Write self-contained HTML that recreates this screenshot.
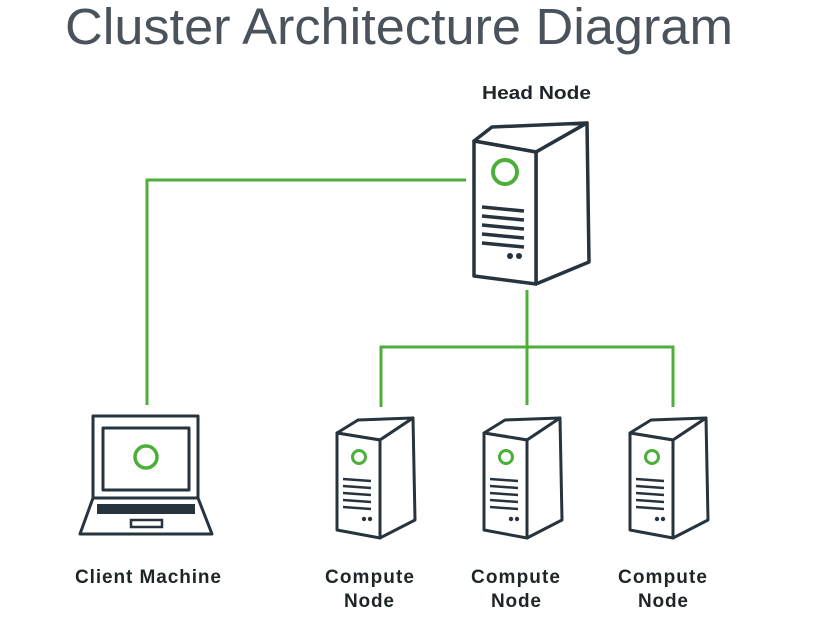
<!DOCTYPE html>
<html><head><meta charset="utf-8"><style>
html,body{margin:0;padding:0;background:#fff;}
svg{display:block;}
</style></head><body>
<svg width="826" height="626" viewBox="0 0 826 626" xmlns="http://www.w3.org/2000/svg">
<defs>
<g id="srv">
  <polygon points="0,0 21,-13 76,-15 43,7" fill="#fff" stroke="#27343d" stroke-width="3" stroke-linejoin="round"/>
  <polygon points="43,7 76,-15 78,87 43,105" fill="#fff" stroke="#27343d" stroke-width="3" stroke-linejoin="round"/>
  <polygon points="0,0 43,7 43,105 0,97" fill="#fff" stroke="#27343d" stroke-width="3" stroke-linejoin="round"/>
  <circle cx="22" cy="24" r="6.5" fill="none" stroke="#4caf3a" stroke-width="3"/>
  <g stroke="#27343d" stroke-width="2.5">
    <line x1="6" y1="46" x2="34" y2="48"/>
    <line x1="6" y1="53" x2="34" y2="55"/>
    <line x1="6" y1="60" x2="34" y2="62"/>
    <line x1="6" y1="67" x2="34" y2="69"/>
    <line x1="6" y1="74" x2="34" y2="76"/>
  </g>
  <circle cx="27" cy="86" r="2.2" fill="#27343d"/>
  <circle cx="33" cy="86" r="2.2" fill="#27343d"/>
</g>
</defs>
<text x="65" y="44" font-family="Liberation Sans, sans-serif" font-size="51" fill="#4a525b" textLength="668" lengthAdjust="spacingAndGlyphs">Cluster Architecture Diagram</text>
<text x="482" y="99" font-family="Liberation Sans, sans-serif" font-size="18" font-weight="bold" fill="#1e2528" textLength="109" lengthAdjust="spacingAndGlyphs">Head Node</text>

<g stroke="#4caf3a" stroke-width="3" fill="none">
  <polyline points="147,405 147,180 466,180"/>
  <line x1="527" y1="290" x2="527" y2="405"/>
  <polyline points="381,407 381,347 673,347 673,407"/>
</g>

<g stroke="#27343d" stroke-width="3.5" stroke-linejoin="round" fill="#fff">
  <polygon points="474,141 492,127 587,123 536,152"/>
  <polygon points="536,152 587,123 589,262 536,284"/>
  <polygon points="474,141 536,152 536,284 474,276"/>
</g>
<circle cx="505" cy="172" r="12" fill="none" stroke="#4caf3a" stroke-width="4"/>
<g stroke="#27343d" stroke-width="3.5">
  <line x1="482" y1="207" x2="524" y2="211"/>
  <line x1="482" y1="216" x2="524" y2="220"/>
  <line x1="482" y1="225" x2="524" y2="229"/>
  <line x1="482" y1="234" x2="524" y2="238"/>
  <line x1="482" y1="243" x2="524" y2="247"/>
</g>
<circle cx="510" cy="256" r="3" fill="#27343d"/><circle cx="519" cy="256" r="3" fill="#27343d"/>

<use href="#srv" x="337" y="433"/>
<use href="#srv" x="484" y="433"/>
<use href="#srv" x="630" y="433"/>

<g stroke="#27343d" stroke-width="3" fill="#fff" stroke-linejoin="round">
  <rect x="93" y="416" width="105" height="82"/>
  <rect x="103" y="428" width="86" height="62"/>
  <polygon points="93,498 198,498 212,534 80,534"/>
</g>
<rect x="97" y="504" width="98" height="10" fill="#27343d"/>
<rect x="131" y="520" width="31" height="7" fill="#fff" stroke="#27343d" stroke-width="2.5"/>
<circle cx="146" cy="457" r="11" fill="none" stroke="#4caf3a" stroke-width="3.5"/>

<g font-family="Liberation Sans, sans-serif" font-size="19" font-weight="bold" fill="#1e2528" lengthAdjust="spacingAndGlyphs">
  <text x="75" y="583" textLength="146">Client Machine</text>
  <text x="325" y="583" textLength="89">Compute</text><text x="344" y="607" textLength="50">Node</text>
  <text x="471" y="583" textLength="89">Compute</text><text x="491" y="607" textLength="50">Node</text>
  <text x="618" y="583" textLength="89">Compute</text><text x="638" y="607" textLength="50">Node</text>
</g>
</svg>
</body></html>
